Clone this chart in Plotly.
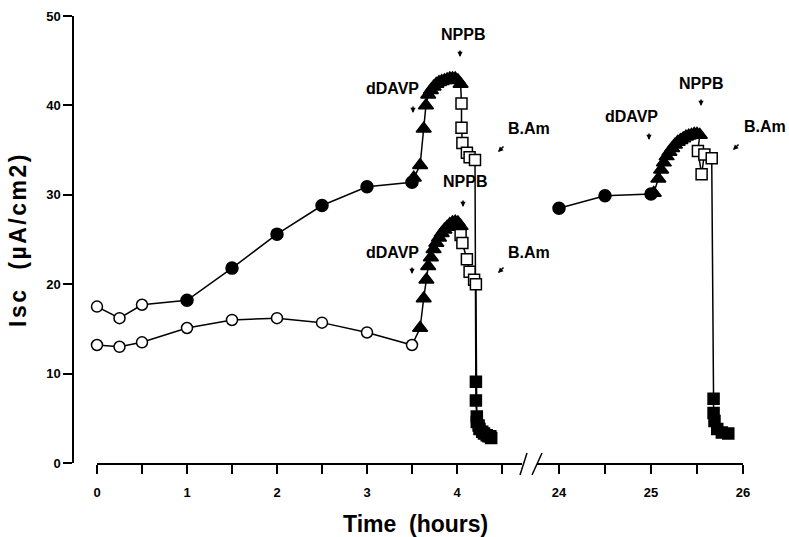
import plotly.graph_objects as go

# ---------------- data (hours, Isc in uA/cm2) ----------------
# Upper tissue, day 0
a_open_t = [0, 0.25, 0.5]
a_open_v = [17.5, 16.2, 17.7]
a_fill_t = [1, 1.5, 2, 2.5, 3, 3.5]
a_fill_v = [18.2, 21.8, 25.6, 28.8, 30.9, 31.4]
a_tri_t = [3.52, 3.59, 3.63, 3.655, 3.68, 3.71, 3.74, 3.77, 3.80, 3.83, 3.86, 3.89, 3.92, 3.95, 3.98, 4.01, 4.04]
a_tri_v = [31.9, 33.3, 37.4, 40.0, 41.2, 41.7, 42.1, 42.4, 42.6, 42.7, 42.8, 42.9, 43.0, 43.0, 43.0, 42.8, 42.4]
a_sq_t = [4.05, 4.05, 4.06, 4.11, 4.14, 4.20]
a_sq_v = [40.2, 37.5, 35.8, 34.7, 34.2, 33.9]
a_fsq_t = [4.21, 4.21, 4.22, 4.24, 4.28, 4.33, 4.37]
a_fsq_v = [9.1, 7.0, 5.2, 4.2, 3.5, 3.1, 3.0]

# Lower tissue, day 0
b_open_t = [0, 0.25, 0.5, 1, 1.5, 2, 2.5, 3, 3.5]
b_open_v = [13.2, 13.0, 13.5, 15.1, 16.0, 16.2, 15.7, 14.6, 13.2]
b_tri_t = [3.59, 3.63, 3.66, 3.68, 3.71, 3.74, 3.77, 3.80, 3.83, 3.86, 3.89, 3.92, 3.95, 3.98, 4.01, 4.04]
b_tri_v = [15.1, 18.4, 20.5, 22.0, 23.0, 23.9, 24.6, 25.2, 25.7, 26.1, 26.4, 26.7, 26.9, 27.0, 26.9, 26.5]
b_sq_t = [4.04, 4.06, 4.11, 4.14, 4.19, 4.21]
b_sq_v = [25.5, 24.6, 22.8, 21.4, 20.5, 20.0]
b_fsq_t = [4.22, 4.25, 4.30, 4.35, 4.38]
b_fsq_v = [4.6, 3.8, 3.3, 3.0, 2.8]

# Day 1 (24-26 h)
c_fill_t = [24, 24.5, 25]
c_fill_v = [28.5, 29.9, 30.1]
c_tri_t = [25.03, 25.08, 25.11, 25.14, 25.17, 25.20, 25.23, 25.26, 25.29, 25.32, 25.35, 25.38, 25.41, 25.44, 25.47, 25.50, 25.53]
c_tri_v = [30.2, 31.8, 32.8, 33.6, 34.3, 34.8, 35.2, 35.6, 35.9, 36.1, 36.3, 36.5, 36.6, 36.7, 36.8, 36.8, 36.7]
c_sq_t = [25.51, 25.55, 25.58, 25.66]
c_sq_v = [34.9, 32.3, 34.5, 34.1]
c_fsq_t = [25.68, 25.68, 25.69, 25.72, 25.77, 25.84]
c_fsq_v = [7.2, 5.6, 4.7, 3.8, 3.4, 3.3]

y_ticks = [0, 10, 20, 30, 40, 50]
x1_ticks = [0, 0.5, 1, 1.5, 2, 2.5, 3, 3.5, 4, 4.5]
x1_labels = ["0", "", "1", "", "2", "", "3", "", "4", ""]
x2_ticks = [24, 24.5, 25, 25.5, 26]
x2_labels = ["24", "", "25", "", "26"]

# ---------------- figure ----------------
W, H = 789, 537
ML, MR, MT, MB = 73, 46, 16, 74
PW, PH = W - ML - MR, H - MT - MB


def px(x):
    return (x - ML) / PW


def py(y):
    return (H - MB - y) / PH


FONT = "Liberation Sans, Arial, Helvetica, sans-serif"
fig = go.Figure()

LINE = dict(color="black", width=1.5)


def add_series(segments, xa):
    ts, vs = [], []
    for t, v, _ in segments:
        ts += t
        vs += v
    fig.add_trace(go.Scatter(x=ts, y=vs, mode="lines", line=LINE, xaxis=xa, yaxis="y",
                             hoverinfo="skip", showlegend=False, cliponaxis=False))
    for t, v, kind in segments:
        sym, fill, size = {
            "open": ("circle", "white", 11),
            "fill": ("circle", "black", 12),
            "tri": ("triangle-up", "black", 13),
            "sq": ("square", "white", 11),
            "fsq": ("square", "black", 11),
        }[kind]
        fig.add_trace(go.Scatter(x=t, y=v, mode="markers", xaxis=xa, yaxis="y",
                                 marker=dict(symbol=sym, color=fill, size=size,
                                             line=dict(color="black", width=1.5)),
                                 showlegend=False, cliponaxis=False))


add_series([(a_open_t, a_open_v, "open"), (a_fill_t, a_fill_v, "fill"),
            (a_tri_t, a_tri_v, "tri"), (a_sq_t, a_sq_v, "sq"), (a_fsq_t, a_fsq_v, "fsq")], "x")
add_series([(b_open_t, b_open_v, "open"), (b_tri_t, b_tri_v, "tri"),
            (b_sq_t, b_sq_v, "sq"), (b_fsq_t, b_fsq_v, "fsq")], "x")
add_series([(c_fill_t, c_fill_v, "fill"), (c_tri_t, c_tri_v, "tri"),
            (c_sq_t, c_sq_v, "sq"), (c_fsq_t, c_fsq_v, "fsq")], "x2")

axis_common = dict(showline=True, linecolor="black", linewidth=1.5, ticks="outside",
                   ticklen=9, tickwidth=1.5, tickcolor="black", showgrid=False, zeroline=False,
                   tickfont=dict(family=FONT, size=13, color="black", weight="bold"))

x1_left, x1_right = 97, 522
x2_left, x2_right = 537, 743
fig.update_layout(
    width=W, height=H, plot_bgcolor="white", paper_bgcolor="white",
    margin=dict(l=ML, r=MR, t=MT, b=MB, autoexpand=False),
    xaxis=dict(domain=[px(x1_left), px(x1_right)], range=[0, (x1_right - x1_left) / 90.0],
               tickvals=x1_ticks, ticktext=x1_labels, anchor="y", ticklabelstandoff=8, **axis_common),
    xaxis2=dict(domain=[px(x2_left), px(x2_right)], range=[26 - (x2_right - x2_left) / 92.0, 26],
                tickvals=x2_ticks, ticktext=x2_labels, anchor="y", ticklabelstandoff=8, **axis_common),
    yaxis=dict(domain=[0, 1], range=[0, 50], tickvals=y_ticks, anchor="free", position=0,
               title=dict(text="Isc  (\u00b5A/cm2)", standoff=12,
                          font=dict(family=FONT, size=23, color="black", weight="bold")),
               **axis_common),
)

# axis break marks
for (x0, y0, x1, y1) in [(520, 475, 527, 453), (532, 475, 542, 453)]:
    fig.add_shape(type="line", xref="paper", yref="paper", x0=px(x0), y0=py(y0), x1=px(x1), y1=py(y1),
                  line=dict(color="black", width=1.5))

ann_font = dict(family=FONT, size=16, color="black", weight="bold")
labels = [
    ("NPPB", 463, 34), ("dDAVP", 392, 88), ("B.Am", 529, 128),
    ("NPPB", 465, 182), ("dDAVP", 392, 252), ("B.Am", 529, 252),
    ("dDAVP", 631, 116), ("NPPB", 701, 83), ("B.Am", 765, 127),
]
for text, x, y in labels:
    fig.add_annotation(text=text, xref="paper", yref="paper", x=px(x), y=py(y),
                       showarrow=False, font=ann_font, xanchor="center", yanchor="middle")

# small arrows: (tip x, tip y, dx, dy) tail offset in px
arrows = [
    (460, 57, 0, -8), (413, 113, 0, -8), (463, 207, 0, -8), (412, 274, 0, -8),
    (649, 140, 0, -8), (701, 106, 0, -8),
    (498, 152, 7, -7), (498, 273, 7, -7), (733, 150, 7, -7),
]
for x, y, dx, dy in arrows:
    fig.add_annotation(text="", xref="paper", yref="paper", x=px(x), y=py(y), ax=dx, ay=dy,
                       showarrow=True, arrowhead=2, arrowsize=0.7, arrowwidth=1.5, arrowcolor="black")

fig.add_annotation(text="Time  (hours)", xref="paper", yref="paper", x=px(415), y=py(524),
                   showarrow=False, xanchor="center", yanchor="middle",
                   font=dict(family=FONT, size=23, color="black", weight="bold"))

post = ("document.body.style.margin='0px';document.body.style.overflow='hidden';"
        "var t=document.querySelector('.g-ytitle text');if(t){t.style.letterSpacing='2.5px';}")
fig.write_html("out.html", config={"displayModeBar": False}, post_script=post)
